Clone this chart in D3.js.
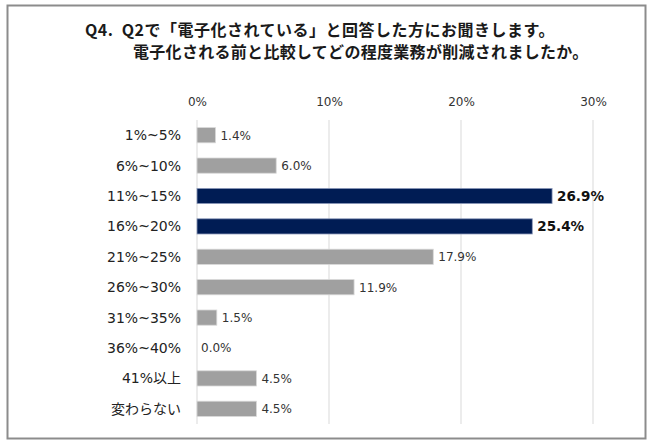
<!DOCTYPE html>
<html>
<head>
<meta charset="utf-8">
<script src="https://cdn.jsdelivr.net/npm/d3@7"></script>
<style>
  body { margin: 0; background: #fff; }
  svg text { font-family: "DejaVu Sans", Verdana, "Noto Sans CJK JP", sans-serif; }
</style>
</head>
<body>
<div id="chart"></div>
<script>
// data
const categories = ["1%~5%", "6%~10%", "11%~15%", "16%~20%", "21%~25%", "26%~30%", "31%~35%", "36%~40%", "41%以上", "変わらない"];
const values = [1.4, 6.0, 26.9, 25.4, 17.9, 11.9, 1.5, 0.0, 4.5, 4.5];
const highlighted = ["11%~15%", "16%~20%"];
const tickValues = [0, 10, 20, 30];
const titleLines = ["Q4.  Q2で「電子化されている」と回答した方にお聞きします。", "電子化される前と比較してどの程度業務が削減されましたか。"];

const width = 650, height = 442;

const svg = d3.select("#chart").append("svg")
    .attr("width", width)
    .attr("height", height);

// outer frame
svg.append("rect")
    .attr("x", 7.5).attr("y", 5.5)
    .attr("width", 638).attr("height", 433)
    .attr("fill", "#fff")
    .attr("stroke", "#8c8c8c")
    .attr("stroke-width", 2);

// title
svg.selectAll(".title")
    .data(titleLines)
    .join("text")
    .attr("class", "title")
    .attr("x", (d, i) => i ? 133 : 85)
    .attr("y", (d, i) => i ? 58 : 36)
    .style("white-space", "pre")
    .style("font-family", "'Noto Sans CJK JP', sans-serif")
    .style("font-size", "16px").style("font-weight", "bold")
    .style("letter-spacing", (d, i) => i ? "0.3px" : "0.5px")
    .attr("fill", "#1a1a1a")
    .text(d => d);

const x = d3.scaleLinear().domain([0, 30]).range([197, 593]);
const y = d3.scaleBand().domain(categories).range([120, 424]).paddingInner(0.5).paddingOuter(0.25);

// gridlines
svg.append("g")
    .selectAll("line")
    .data(tickValues)
    .join("line")
    .attr("x1", d => x(d)).attr("x2", d => x(d))
    .attr("y1", 120).attr("y2", 424)
    .attr("stroke", "#d9d9d9")
    .attr("stroke-width", 1);

// top axis labels
const axis = svg.append("g")
    .attr("transform", "translate(0,106)")
    .call(d3.axisTop(x).tickValues(tickValues).tickFormat(d => d + "%").tickSize(0).tickPadding(0));
axis.select(".domain").remove();
axis.selectAll("text")
    .style("font-size", "12px")
    .attr("fill", "#333");

// category labels
svg.append("g")
    .selectAll("text")
    .data(categories)
    .join("text")
    .attr("x", 181)
    .attr("y", d => y(d) + y.bandwidth() / 2)
    .attr("dy", "0.36em")
    .attr("text-anchor", "end")
    .style("font-size", "14px")
    .attr("fill", "#222")
    .text(d => d);

// bars
const isHi = d => highlighted.includes(d);
svg.append("g")
    .selectAll("rect")
    .data(categories)
    .join("rect")
    .attr("x", x(0))
    .attr("y", (d) => y(d))
    .attr("width", (d, i) => x(values[i]) - x(0))
    .attr("height", y.bandwidth())
    .attr("fill", d => isHi(d) ? "#001c54" : "#a0a0a0")
    .attr("stroke", d => isHi(d) ? "#8e9cbc" : "#d8d8d8")
    .attr("stroke-width", d => (values[categories.indexOf(d)] > 0 ? 0.8 : 0));

// value labels
svg.append("g")
    .selectAll("text")
    .data(categories)
    .join("text")
    .attr("x", (d, i) => x(values[i]) + (values[i] > 0 ? 5 : 4))
    .attr("y", d => y(d) + y.bandwidth() / 2)
    .attr("dy", "0.36em")
    .style("font-size", d => isHi(d) ? "13.5px" : "12px")
    .style("font-weight", d => isHi(d) ? "bold" : "normal")
    .attr("fill", d => isHi(d) ? "#111" : "#333")
    .text((d, i) => values[i].toFixed(1) + "%");
</script>
</body>
</html>
